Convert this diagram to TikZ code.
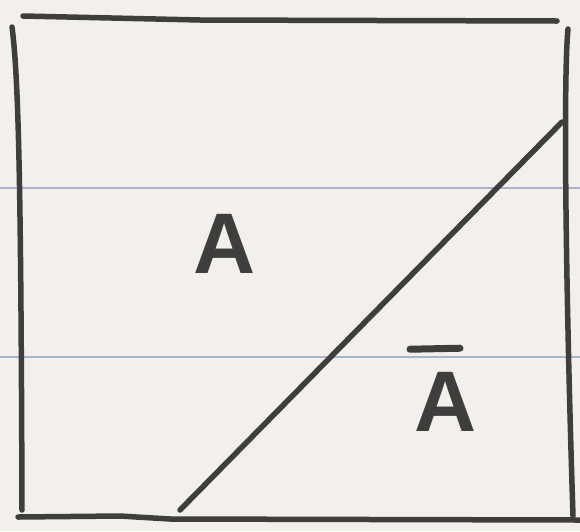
\documentclass[tikz,border=0pt]{standalone}
\usepackage{fontspec}
\setmainfont{Liberation Sans}
\usetikzlibrary{positioning}

\definecolor{paper}{RGB}{243,240,236}
\definecolor{ruling}{RGB}{165,182,204}
\definecolor{pencil}{RGB}{62,62,60}

\begin{document}
\begin{tikzpicture}[
        x=1pt, y=-1pt,
        stroke/.style={
            draw=pencil,
            line width=5.5pt,
            line cap=round,
            line join=round
        },
        rule/.style={draw=ruling, line width=1.6pt},
        lab/.style={
            text=pencil,
            font=\bfseries\fontsize{86}{86}\selectfont,
            inner sep=0pt
        }
    ]

        % Paper
        \fill[paper] (0,0) rectangle (580,531);
        \useasboundingbox (0,0) rectangle (580,531);

        % Ruled lines of the notebook
        \draw[rule] (0,188) -- (580,188);
        \draw[rule] (0,357) -- (580,357);

        % Corners of the square
        \coordinate (tl) at (23,16);
        \coordinate (tr) at (557,21);
        \coordinate (lt) at (12,27);
        \coordinate (lb) at (22,510);
        \coordinate (rt) at (568,29);
        \coordinate (rb) at (573,516);
        \coordinate (bl) at (18,517);
        \coordinate (br) at (580,520);

        % Square, drawn side by side
        \draw[stroke] (tl) -- (200,20) -- (tr);
        \draw[stroke] (lt) .. controls (19,80) and (21,200) .. (lb);
        \draw[stroke] (rt) .. controls (563,80) and (566,300) .. (rb);
        \draw[stroke] (bl) -- (120,516) -- (170,519) -- (br);

        % Diagonal cut
        \coordinate (d0) at (180,510);
        \coordinate (d1) at (562,122);
        \draw[stroke] (d0) -- (d1);

        % Labels
        \node[lab] (setA) at (225,244) {A};
        \node[lab] (compA) at (446,402) {A};
        \draw[stroke, line width=7pt] ([xshift=-36pt, yshift=23pt]compA.north) -- ([xshift=14pt, yshift=24pt]compA.north);

    \end{tikzpicture}
\end{document}
